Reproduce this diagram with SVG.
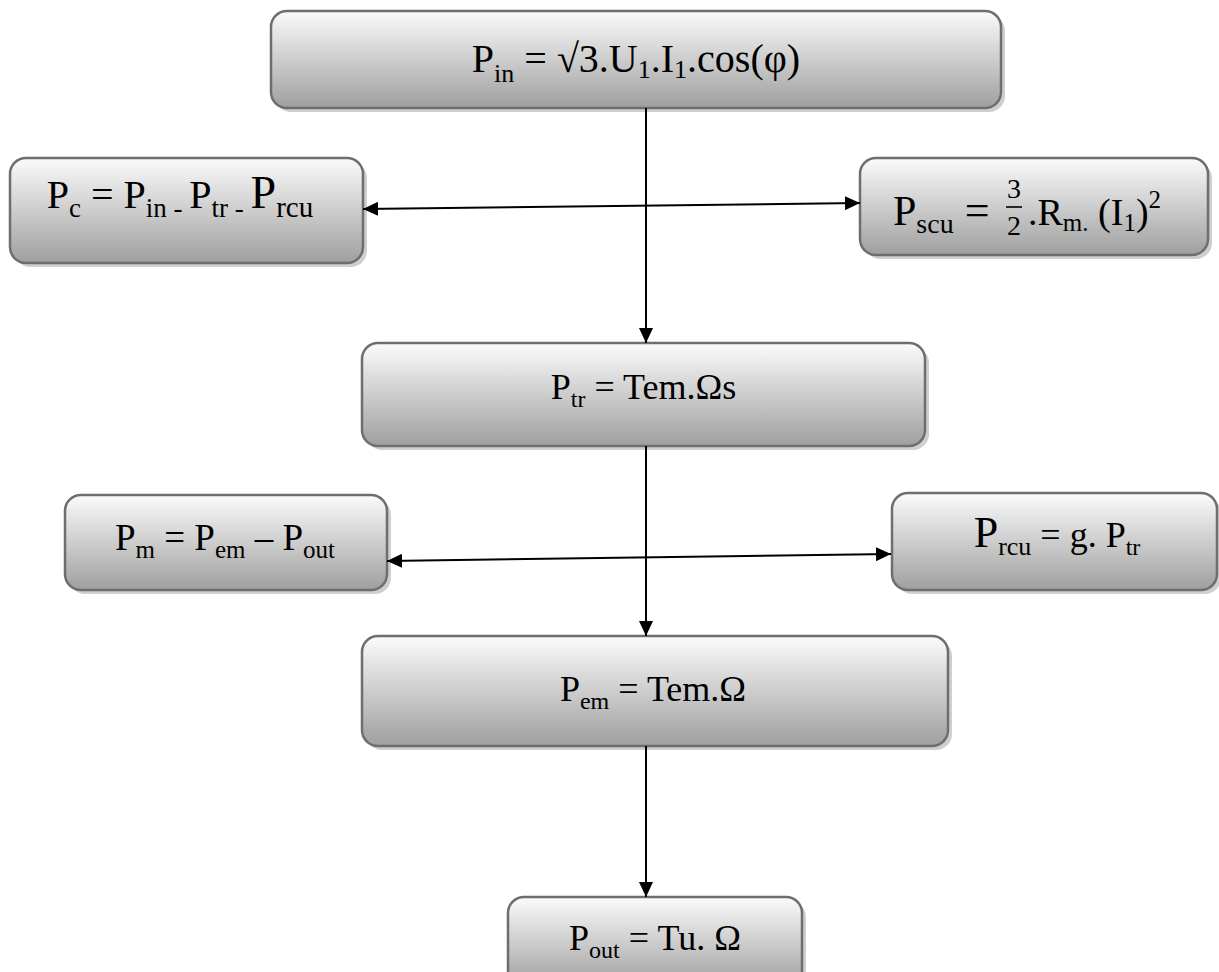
<svg xmlns="http://www.w3.org/2000/svg" width="1219" height="972" viewBox="0 0 1219 972">
<defs>
<linearGradient id="g" x1="0" y1="0" x2="0" y2="1">
<stop offset="0" stop-color="#fbfbfb"/>
<stop offset="1" stop-color="#9f9f9f"/>
</linearGradient>
<marker id="ah" viewBox="0 0 15 14" refX="15" refY="7" markerWidth="15" markerHeight="14" markerUnits="userSpaceOnUse" orient="auto-start-reverse">
<path d="M0,0 L15,7 L0,14 z" fill="#000"/>
</marker>
</defs>
<style>
.box{fill:url(#g);stroke:#6e6e6e;stroke-width:2.5}
.sh{fill:#cfcfcf}
.t{font-family:"Liberation Serif","Times New Roman",serif;fill:#000}
.c{stroke:#000;stroke-width:2;fill:none}
</style>
<rect width="1219" height="972" fill="#fff"/>

<g id="n-pin">
<rect class="sh" x="275" y="15" width="730" height="97" rx="16"/>
<rect class="box" x="271" y="11" width="730" height="97" rx="16"/>
<text class="t" x="636" y="72" font-size="40" text-anchor="middle">P<tspan font-size="26" dy="10">in</tspan><tspan dy="-10"> = √3.U</tspan><tspan font-size="26" dy="6">1</tspan><tspan dy="-6">.I</tspan><tspan font-size="26" dy="6">1</tspan><tspan dy="-6">.cos(φ)</tspan></text>
</g>

<g id="n-pc">
<rect class="sh" x="14" y="162" width="353" height="105" rx="16"/>
<rect class="box" x="10" y="158" width="353" height="105" rx="16"/>
<text class="t" x="180" y="208" font-size="40" text-anchor="middle">P<tspan font-size="27" dy="9">c</tspan><tspan dy="-9"> = P</tspan><tspan font-size="27" dy="9">in - </tspan><tspan dy="-9">P</tspan><tspan font-size="27" dy="9">tr - </tspan><tspan font-size="46" dy="-9">P</tspan><tspan font-size="29" dy="9">rcu</tspan></text>
</g>

<g id="n-pscu">
<rect class="sh" x="864" y="162" width="348" height="97" rx="16"/>
<rect class="box" x="860" y="158" width="348" height="97" rx="16"/>
<text class="t" x="893" y="225" font-size="42">P<tspan font-size="28" dy="8">scu</tspan><tspan dy="-8" font-size="44"> = </tspan></text>
<text class="t" x="1014" y="198" font-size="28" text-anchor="middle">3</text>
<line x1="1006" y1="207" x2="1022" y2="207" stroke="#000" stroke-width="1.6"/>
<text class="t" x="1014" y="235" font-size="28" text-anchor="middle">2</text>
<text class="t" x="1028" y="225" font-size="38">.R<tspan font-size="25" dy="6">m.</tspan><tspan dy="-6"> (I</tspan><tspan font-size="25" dy="6">1</tspan><tspan dy="-6">)</tspan><tspan font-size="25" dy="-17">2</tspan></text>
</g>

<g id="n-ptr">
<rect class="sh" x="366" y="347" width="563" height="103" rx="16"/>
<rect class="box" x="362" y="343" width="563" height="103" rx="16"/>
<text class="t" x="643.5" y="399" font-size="36" text-anchor="middle">P<tspan font-size="24" dy="8">tr</tspan><tspan dy="-8"> = Tem.Ωs</tspan></text>
</g>

<g id="n-pm">
<rect class="sh" x="69" y="499" width="322" height="95" rx="16"/>
<rect class="box" x="65" y="495" width="322" height="95" rx="16"/>
<text class="t" x="225" y="550" font-size="37" text-anchor="middle">P<tspan font-size="25" dy="8">m</tspan><tspan dy="-8"> = P</tspan><tspan font-size="25" dy="8">em</tspan><tspan dy="-8"> – P</tspan><tspan font-size="25" dy="8">out</tspan></text>
</g>

<g id="n-prcu">
<rect class="sh" x="896" y="497" width="325" height="97" rx="16"/>
<rect class="box" x="892" y="493" width="325" height="97" rx="16"/>
<text class="t" x="1057" y="547" font-size="36" text-anchor="middle"><tspan font-size="44">P</tspan><tspan font-size="26" dy="8">rcu</tspan><tspan dy="-8"> = g. P</tspan><tspan font-size="24" dy="8">tr</tspan></text>
</g>

<g id="n-pem">
<rect class="sh" x="366" y="640" width="586" height="110" rx="16"/>
<rect class="box" x="362" y="636" width="586" height="110" rx="16"/>
<text class="t" x="653" y="701" font-size="36" text-anchor="middle">P<tspan font-size="24" dy="8">em</tspan><tspan dy="-8"> = Tem.Ω</tspan></text>
</g>

<g id="n-pout">
<rect class="sh" x="512" y="901" width="294" height="90" rx="16"/>
<rect class="box" x="508" y="897" width="294" height="90" rx="16"/>
<text class="t" x="655" y="950" font-size="36" text-anchor="middle">P<tspan font-size="24" dy="8">out</tspan><tspan dy="-8"> = Tu. Ω</tspan></text>
</g>

<g id="connectors">
<line class="c" x1="646" y1="108" x2="646" y2="343" marker-end="url(#ah)"/>
<line class="c" x1="363" y1="209" x2="860" y2="203" marker-start="url(#ah)" marker-end="url(#ah)"/>
<line class="c" x1="646" y1="446" x2="646" y2="636" marker-end="url(#ah)"/>
<line class="c" x1="387" y1="561" x2="891" y2="554" marker-start="url(#ah)" marker-end="url(#ah)"/>
<line class="c" x1="646" y1="746" x2="646" y2="897" marker-end="url(#ah)"/>
</g>
</svg>
